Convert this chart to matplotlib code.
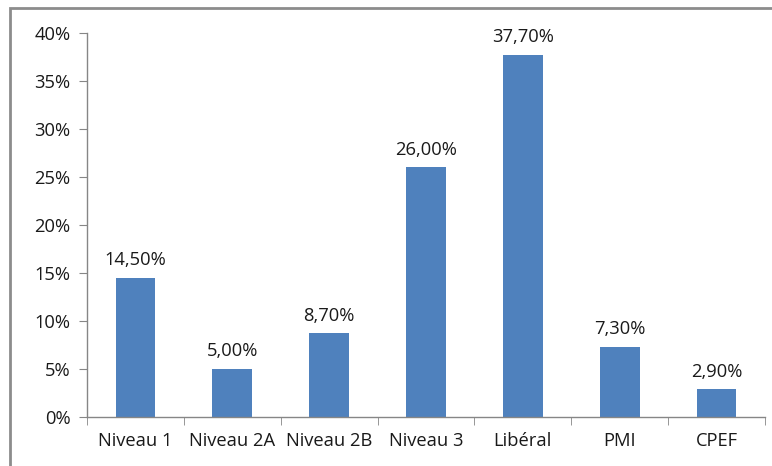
import matplotlib
matplotlib.use("Agg")
import matplotlib.pyplot as plt
import matplotlib.patches as mpatches
import numpy as np

categories = ["Niveau 1", "Niveau 2A", "Niveau 2B", "Niveau 3", "Libéral", "PMI", "CPEF"]
values = [14.5, 5.0, 8.7, 26.0, 37.7, 7.3, 2.9]
labels = ["14,50%", "5,00%", "8,70%", "26,00%", "37,70%", "7,30%", "2,90%"]
yticks = [0, 5, 10, 15, 20, 25, 30, 35, 40]

plt.rcParams["font.family"] = ["Open Sans", "DejaVu Sans"]
FS = 13.2
TXT = "#1a1a1a"

fig = plt.figure(figsize=(7.72, 4.66), dpi=100)
ax = fig.add_axes([87 / 772, 1 - 417 / 466, (765 - 87) / 772, (417 - 33) / 466])

# outer chart frame (partly cut off at right/bottom)
frame = mpatches.Rectangle((10 / 772, -0.1), 1.2, 0.1 + 1 - 8 / 466,
                           transform=fig.transFigure, fill=False,
                           edgecolor="#8c8c8c", linewidth=2.0)
fig.patches.append(frame)

x = np.arange(len(categories))
bars = ax.bar(x, values, width=0.41, color="#4F81BD")

for xi, v, lab in zip(x, values, labels):
    ax.text(xi, v + 0.9, lab, ha="center", va="bottom", fontsize=FS, color=TXT)

ax.set_xlim(-0.5, len(categories) - 0.5)
ax.set_ylim(0, 40)
ax.set_yticks(yticks)
ax.set_yticklabels([f"{t}%" for t in yticks])
ax.set_xticks(x)
ax.set_xticklabels(categories)
ax.set_xticks(np.arange(len(categories) + 1) - 0.5, minor=True)

for s in ["top", "right"]:
    ax.spines[s].set_visible(False)
for s in ["left", "bottom"]:
    ax.spines[s].set_color("#868686")
    ax.spines[s].set_linewidth(1.0)

ax.tick_params(axis="x", which="major", length=0, pad=11, labelsize=FS, labelcolor=TXT)
ax.tick_params(axis="x", which="minor", length=6, direction="out", color="#868686")
ax.tick_params(axis="y", length=6, direction="out", color="#868686", pad=6,
               labelsize=FS, labelcolor=TXT)

fig.savefig("out.png", dpi=100)
